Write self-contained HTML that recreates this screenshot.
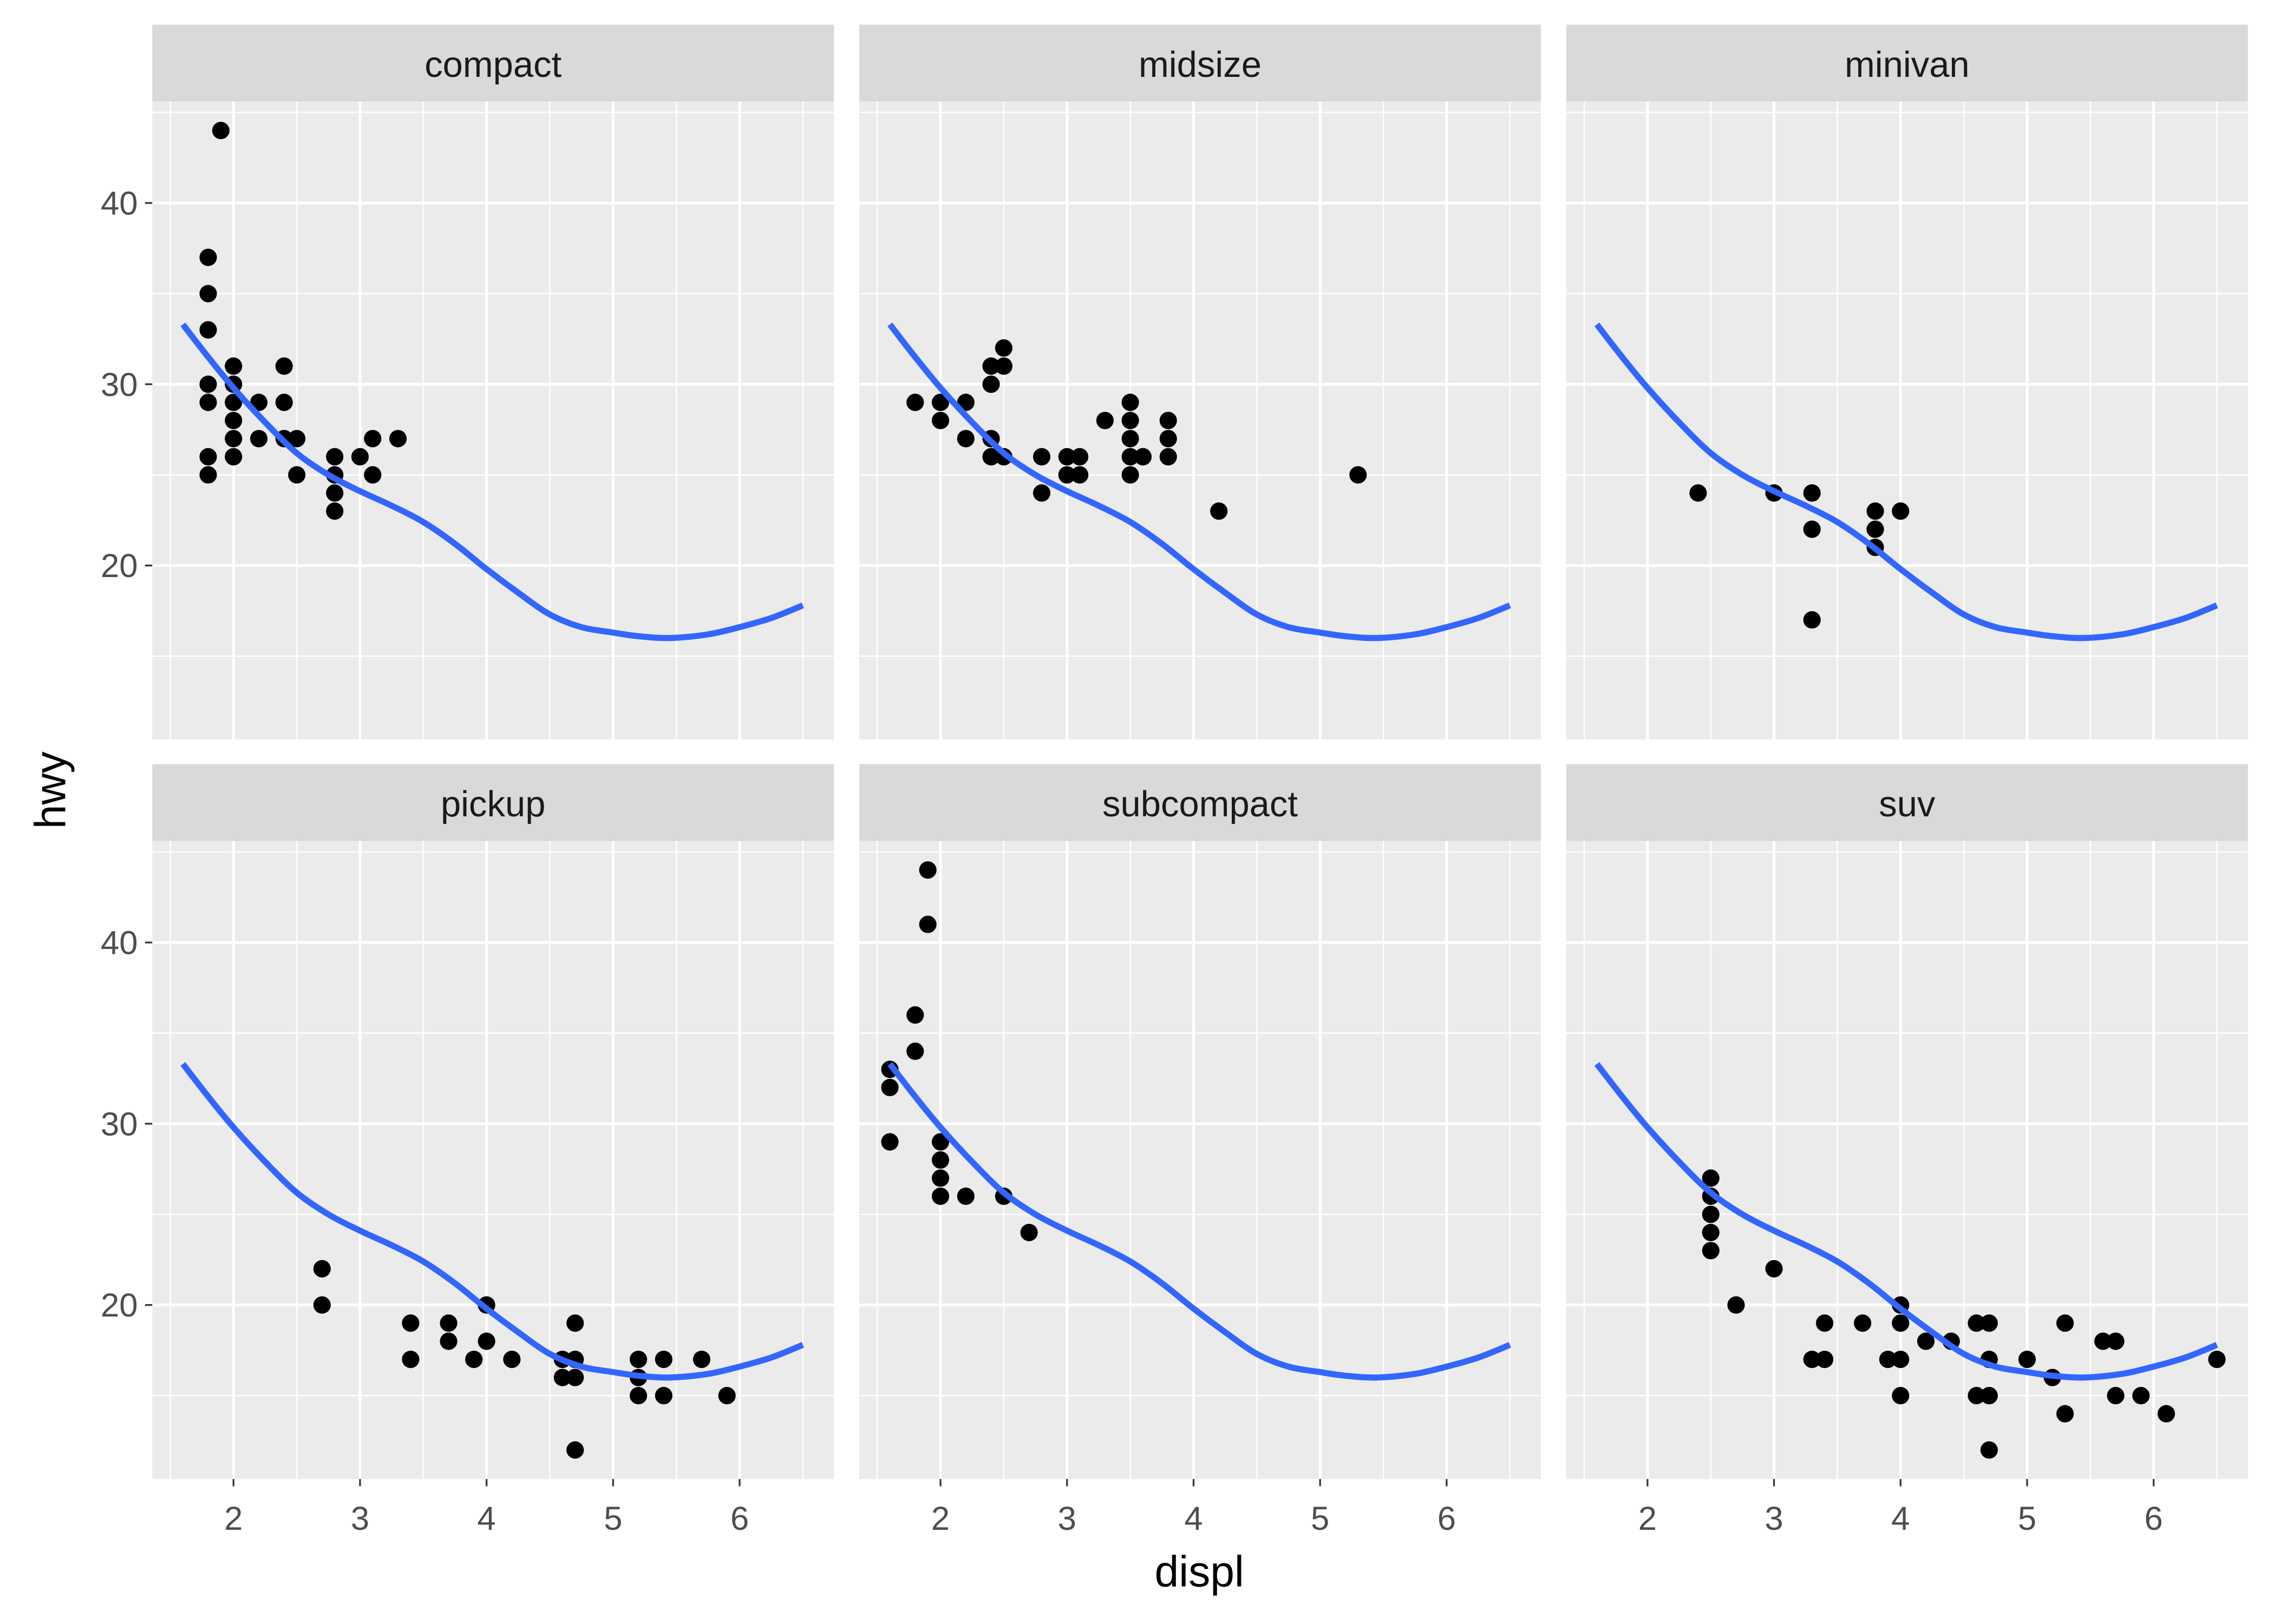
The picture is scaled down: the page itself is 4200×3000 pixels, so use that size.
<!DOCTYPE html>
<html><head><meta charset="utf-8"><style>html,body{margin:0;padding:0;background:#fff}svg{display:block}</style></head>
<body>
<svg id="s" xmlns="http://www.w3.org/2000/svg" width="4200" height="3000" viewBox="0 0 1568 1120" font-family="Liberation Sans, sans-serif"></svg>
<script>
const s=document.getElementById('s');let h='<rect width="1568" height="1120" fill="#fff"/>';
const cols=[105,592.5,1080],W=470,rows=[[17,70,510],[527,580,1020]];
const X=(ox,v)=>ox+56+(v-2)*87.25, Y=(oy,v)=>oy+140+(40-v)*12.5;
const names=["compact","midsize","minivan","pickup","subcompact","suv"];
const D=[
[[1.8,29],[1.8,30],[1.8,26],[1.8,25],[1.8,33],[1.8,35],[1.8,37],[1.9,44],[2,31],[2,30],[2,29],[2,28],[2,27],[2,26],[2.2,29],[2.2,27],[2.4,31],[2.4,29],[2.4,27],[2.5,27],[2.5,25],[2.8,26],[2.8,25],[2.8,24],[2.8,23],[3,26],[3.1,27],[3.1,25],[3.3,27]],
[[1.8,29],[2,29],[2,28],[2.2,29],[2.2,27],[2.4,31],[2.4,30],[2.4,27],[2.4,26],[2.5,32],[2.5,31],[2.5,26],[2.8,26],[2.8,24],[3,26],[3,25],[3.1,26],[3.1,25],[3.3,28],[3.5,29],[3.5,28],[3.5,27],[3.5,26],[3.5,25],[3.6,26],[3.8,28],[3.8,27],[3.8,26],[4.2,23],[5.3,25]],
[[2.4,24],[3,24],[3.3,24],[3.3,22],[3.3,17],[3.8,23],[3.8,22],[3.8,21],[4,23]],
[[2.7,22],[2.7,20],[3.4,19],[3.4,17],[3.7,19],[3.7,18],[3.9,17],[4,20],[4,18],[4.2,17],[4.6,17],[4.6,16],[4.7,19],[4.7,17],[4.7,16],[4.7,12],[5.2,17],[5.2,16],[5.2,15],[5.4,17],[5.4,15],[5.7,17],[5.9,15]],
[[1.6,33],[1.6,32],[1.6,29],[1.8,36],[1.8,34],[1.9,44],[1.9,41],[2,29],[2,28],[2,27],[2,26],[2.2,26],[2.5,26],[2.7,24]],
[[2.5,27],[2.5,26],[2.5,25],[2.5,24],[2.5,23],[2.7,20],[3,22],[3.3,17],[3.4,19],[3.4,17],[3.7,19],[3.9,17],[4,20],[4,19],[4,17],[4,15],[4.2,18],[4.4,18],[4.6,19],[4.6,15],[4.7,19],[4.7,17],[4.7,15],[4.7,12],[5,17],[5.2,16],[5.3,19],[5.3,14],[5.6,18],[5.7,18],[5.7,15],[5.9,15],[6.1,14],[6.5,17]]];
const C=[[1.6,33.3],[1.8,31.5],[2,29.8],[2.25,27.9],[2.5,26.2],[2.75,25],[3,24.1],[3.25,23.3],[3.5,22.4],[3.75,21.2],[4,19.8],[4.25,18.5],[4.5,17.3],[4.75,16.6],[5,16.3],[5.2,16.1],[5.45,16],[5.75,16.2],[6,16.6],[6.25,17.1],[6.5,17.8]];
function smooth(pts){let d='M'+pts[0].join(',');for(let i=0;i<pts.length-1;i++){const p0=pts[i-1]||pts[i],p1=pts[i],p2=pts[i+1],p3=pts[i+2]||p2;d+=`C${p1[0]+(p2[0]-p0[0])/6},${p1[1]+(p2[1]-p0[1])/6} ${p2[0]-(p3[0]-p1[0])/6},${p2[1]-(p3[1]-p1[1])/6} ${p2[0]},${p2[1]}`;}return d;}
for(let k=0;k<6;k++){const ox=cols[k%3],r=rows[Math.floor(k/3)],oy=r[1]-70;
h+=`<rect x="${ox}" y="${r[0]}" width="${W}" height="${r[1]-r[0]}" fill="#d9d9d9"/>`;
h+=`<text x="${ox+W/2}" y="${r[0]+36}" font-size="25" fill="#1a1a1a" text-anchor="middle">${names[k]}</text>`;
h+=`<rect x="${ox}" y="${r[1]}" width="${W}" height="440" fill="#ebebeb"/>`;
for(let v=1.5;v<7;v++)h+=`<line x1="${X(ox,v)}" x2="${X(ox,v)}" y1="${r[1]}" y2="${r[2]}" stroke="#fff" stroke-width="0.9"/>`;
for(let v=15;v<=45;v+=10)h+=`<line x1="${ox}" x2="${ox+W}" y1="${Y(oy,v)}" y2="${Y(oy,v)}" stroke="#fff" stroke-width="0.9"/>`;
for(let v=2;v<=6;v++)h+=`<line x1="${X(ox,v)}" x2="${X(ox,v)}" y1="${r[1]}" y2="${r[2]}" stroke="#fff" stroke-width="1.9"/>`;
for(let v=20;v<=40;v+=10)h+=`<line x1="${ox}" x2="${ox+W}" y1="${Y(oy,v)}" y2="${Y(oy,v)}" stroke="#fff" stroke-width="1.9"/>`;
if(k%3==0)for(let v=20;v<=40;v+=10){h+=`<line x1="${ox-5}" x2="${ox}" y1="${Y(oy,v)}" y2="${Y(oy,v)}" stroke="#333" stroke-width="1.2"/>`;h+=`<text x="${ox-10}" y="${Y(oy,v)+8}" font-size="23" fill="#4d4d4d" text-anchor="end">${v}</text>`;}
if(k>=3)for(let v=2;v<=6;v++){h+=`<line x1="${X(ox,v)}" x2="${X(ox,v)}" y1="${r[2]}" y2="${r[2]+5}" stroke="#333" stroke-width="1.2"/>`;h+=`<text x="${X(ox,v)}" y="${r[2]+35}" font-size="23" fill="#4d4d4d" text-anchor="middle">${v}</text>`;}
for(const p of D[k])h+=`<circle cx="${X(ox,p[0])}" cy="${Y(oy,p[1])}" r="6" fill="#000"/>`;
h+=`<path d="${smooth(C.map(p=>[X(ox,p[0]),Y(oy,p[1])]))}" fill="none" stroke="#3366ff" stroke-width="4.2"/>`;}
h+=`<text x="827" y="1094" font-size="30" fill="#000" text-anchor="middle">displ</text>`;
h+=`<text transform="translate(45,545) rotate(-90)" font-size="30" fill="#000" text-anchor="middle">hwy</text>`;
s.innerHTML=h;
</script>
</body></html>
